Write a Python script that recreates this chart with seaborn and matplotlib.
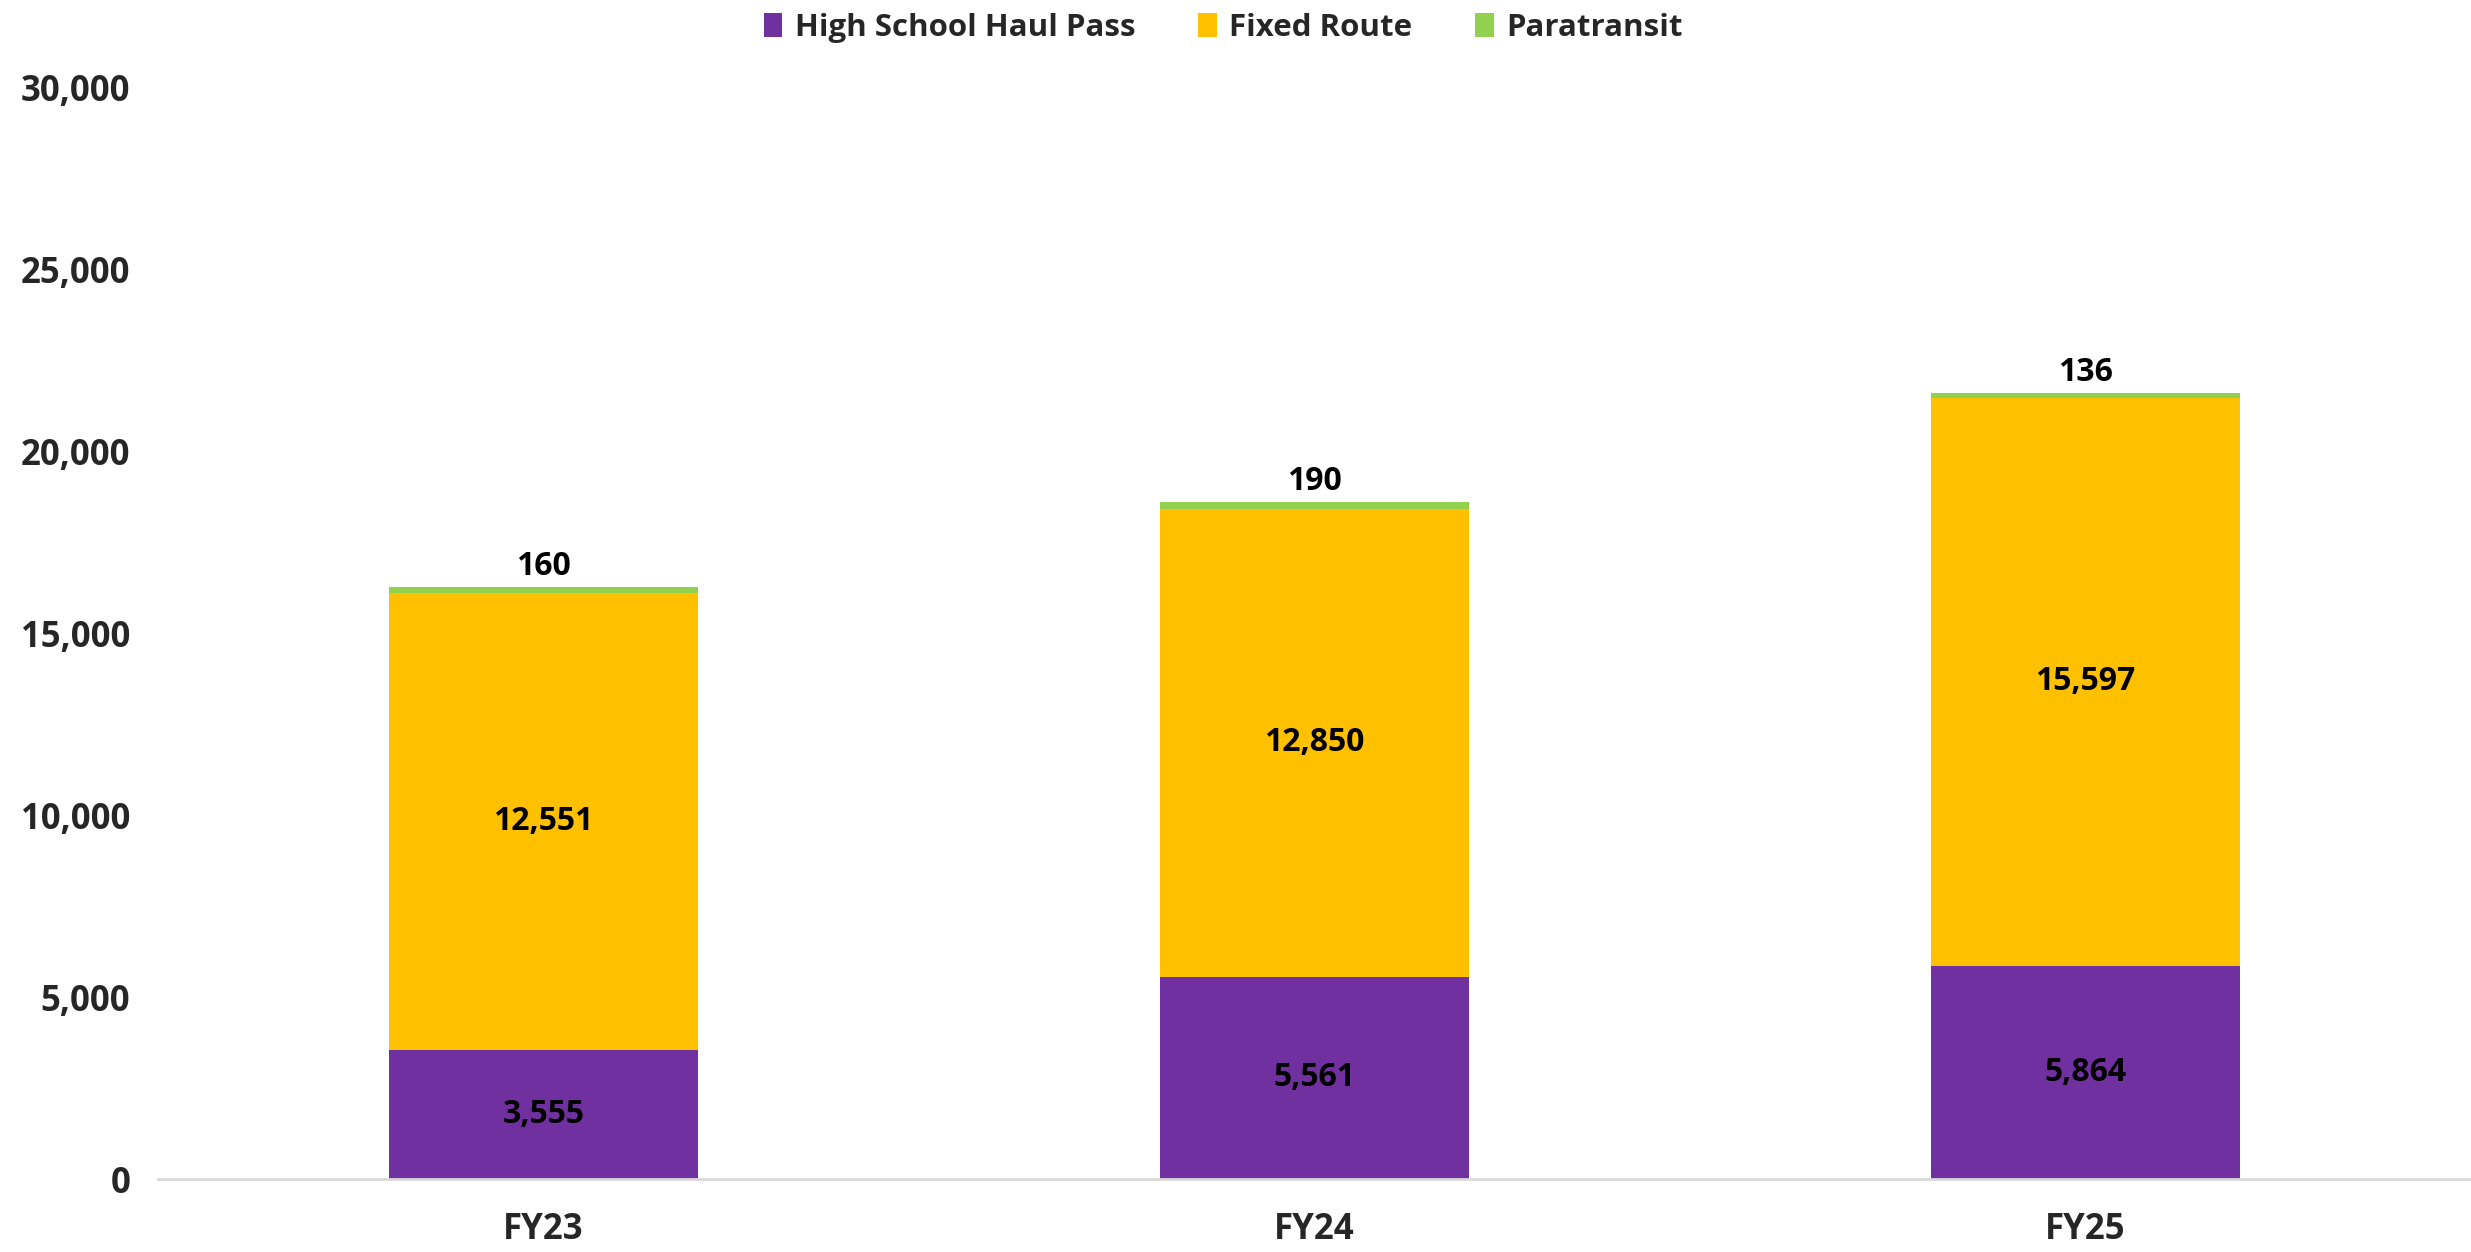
import numpy as np
import matplotlib.pyplot as plt
import seaborn as sns
from matplotlib.patches import Patch

# chart data
years = ['FY23', 'FY24', 'FY25']
high_school = [3555, 5561, 5864]
fixed_route = [12551, 12850, 15597]
paratransit = [160, 190, 136]

series_names = ['High School Haul Pass', 'Fixed Route', 'Paratransit']
colors = ['#7030A0', '#FFC000', '#92D050']

sns.set_theme(style='white')
plt.rcParams['font.family'] = ['Open Sans', 'DejaVu Sans']
plt.rcParams['font.weight'] = 'bold'

fig = plt.figure(figsize=(24.71, 12.52), dpi=100)
ax = fig.add_axes([0.064, 0.0583, 0.936, 0.8722])

bottom_fixed = np.array(high_school)
bottom_para = bottom_fixed + np.array(fixed_route)

bar_kw = dict(width=0.4, ax=ax, saturation=1, linewidth=0)
sns.barplot(x=years, y=high_school, color=colors[0], **bar_kw)
sns.barplot(x=years, y=fixed_route, bottom=bottom_fixed, color=colors[1], **bar_kw)
sns.barplot(x=years, y=paratransit, bottom=bottom_para, color=colors[2], **bar_kw)

# value labels
fs = 23
for i in range(len(years)):
    ax.text(i, high_school[i] / 2, f'{high_school[i]:,}', ha='center', va='center',
            fontsize=fs, fontweight='bold', color='black')
    ax.text(i, bottom_fixed[i] + fixed_route[i] / 2, f'{fixed_route[i]:,}', ha='center', va='center',
            fontsize=fs, fontweight='bold', color='black')
    ax.text(i, bottom_para[i] + paratransit[i] + 100, f'{paratransit[i]:,}', ha='center', va='bottom',
            fontsize=fs, fontweight='bold', color='black')

ax.set_xlim(-0.5, 2.5)
ax.set_ylim(0, 30000)
ax.set_yticks(range(0, 30001, 5000))
ax.set_yticklabels([f'{v:,}' for v in range(0, 30001, 5000)], fontsize=25, fontweight='bold')
ax.set_xticks(range(len(years)))
ax.set_xticklabels(years, fontsize=25, fontweight='bold')
ax.tick_params(axis='y', length=0, pad=20)
ax.tick_params(axis='x', length=0, pad=24)

for s in ['top', 'right', 'left']:
    ax.spines[s].set_visible(False)
ax.spines['bottom'].set_color('#D9D9D9')
ax.spines['bottom'].set_linewidth(2)

handles = [Patch(facecolor=c, edgecolor='none') for c in colors]
fig.legend(handles, series_names, loc='upper center', bbox_to_anchor=(0.495, 1.012), ncol=3,
           frameon=False, prop={'size': 22.5, 'weight': 'bold'}, handlelength=0.6, handleheight=0.8,
           handletextpad=0.4, columnspacing=2.0)

fig.savefig('out.png', dpi=100)
